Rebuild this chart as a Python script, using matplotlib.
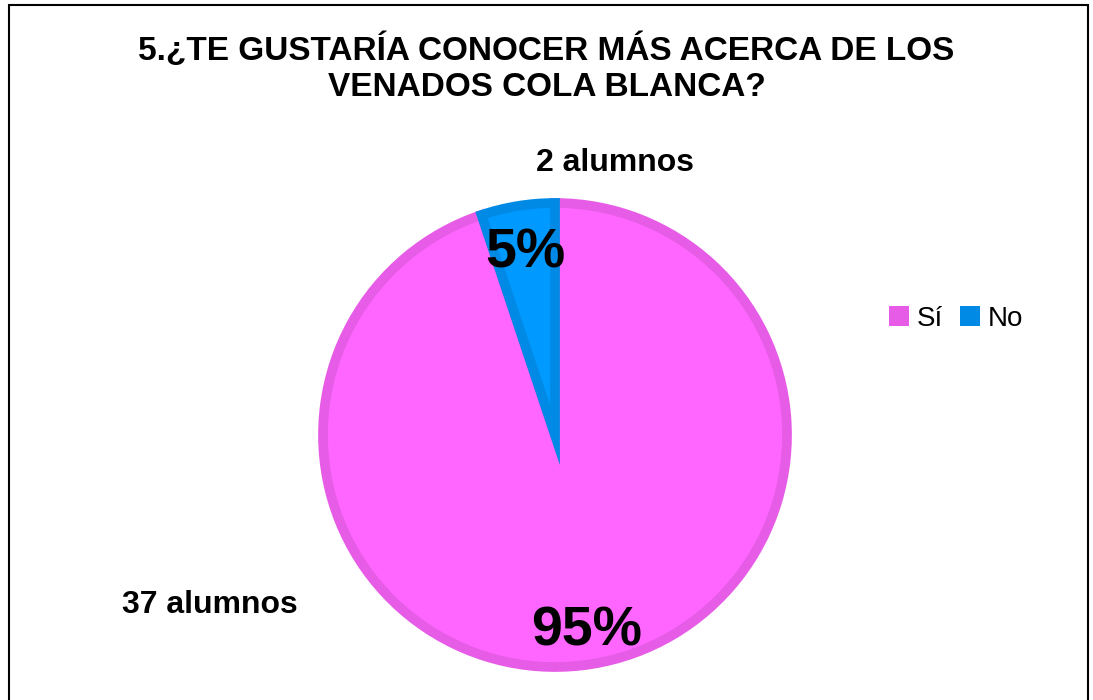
import matplotlib.pyplot as plt
from matplotlib.patches import Rectangle, Patch

plt.rcParams['font.family'] = ['Liberation Sans', 'DejaVu Sans']

# data
categories = ['Sí', 'No']
counts = [37, 2]
count_labels = ['37 alumnos', '2 alumnos']
fill_colors = ['#FF66FF', '#0099FF']
edge_colors = ['#E65CE6', '#008AE6']
title = '5.¿TE GUSTARÍA CONOCER MÁS ACERCA DE LOS\nVENADOS COLA BLANCA?'

fig = plt.figure(figsize=(10.93, 7), dpi=100)
fig.patches.append(Rectangle((0.008, -0.05), 0.987, 1.043, transform=fig.transFigure,
                             fill=False, edgecolor='black', linewidth=1.5))

ax = fig.add_axes([323 / 1093, 33 / 700, 464 / 1093, 464 / 700])
wedges, texts, pcts = ax.pie(counts, startangle=90, counterclock=False,
                             colors=fill_colors, labels=count_labels,
                             autopct='%1.0f%%', radius=1)
for w, ec in zip(wedges, edge_colors):
    w.set_edgecolor(ec)
    w.set_linewidth(7)

# label placement
for t, pos in zip(texts, [(-1.487, -0.733), (0.259, 1.172)]):
    t.set_position(pos)
    t.set_ha('center')
    t.set_va('center')
    t.set_fontsize(23)
    t.set_fontweight('bold')
for t, pos in zip(pcts, [(0.138, -0.849), (-0.129, 0.784)]):
    t.set_position(pos)
    t.set_ha('center')
    t.set_va('center')
    t.set_fontsize(40)
    t.set_fontweight('bold')

ax.set_xlim(-1, 1)
ax.set_ylim(-1, 1)
ax.set_aspect('equal')
ax.axis('off')

handles = [Patch(facecolor=c, edgecolor='none') for c in edge_colors]
fig.legend(handles, categories, loc='center', bbox_to_anchor=(0.875, 0.545), ncol=2,
           frameon=False, fontsize=20, handlelength=0.7, handleheight=0.7,
           handletextpad=0.3, columnspacing=0.6)

fig.text(0.5, 0.903, title, ha='center', va='center', fontsize=24, fontweight='bold',
         linespacing=1.22)

fig.savefig('out.png', dpi=100)
